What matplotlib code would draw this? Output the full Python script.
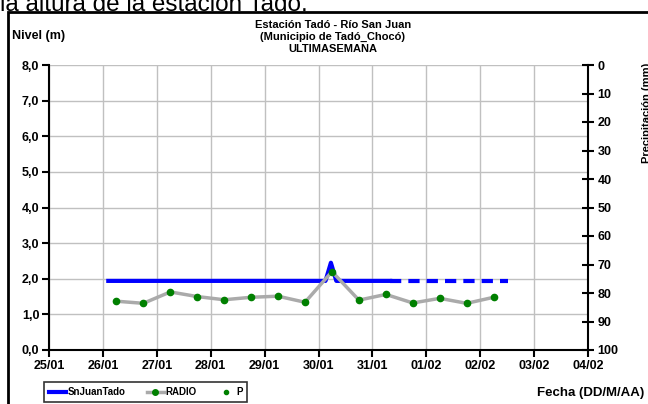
import matplotlib
matplotlib.use("Agg")
from matplotlib import pyplot as plt
from matplotlib.lines import Line2D
from matplotlib.patches import Rectangle

plt.rcParams['font.family'] = ['Liberation Sans', 'DejaVu Sans']

# days counted from 25/01
DAY_LABELS = ["25/01", "26/01", "27/01", "28/01", "29/01", "30/01",
              "31/01", "01/02", "02/02", "03/02", "04/02"]

# SnJuanTado level (m): measured part and forecast (dashed)
nivel_dias = [1.1, 5.13, 5.23, 5.33, 6.33]
nivel_m = [1.94, 1.94, 2.45, 1.94, 1.94]
prono_dias = [6.33, 8.52]
prono_m = [1.94, 1.94]

# RADIO readings (m)
radio_dias = [1.25, 1.75, 2.25, 2.75, 3.25, 3.75, 4.25, 4.75,
              5.25, 5.75, 6.25, 6.75, 7.25, 7.75, 8.25]
radio_m = [1.37, 1.31, 1.63, 1.50, 1.41, 1.48, 1.51, 1.34,
           2.20, 1.40, 1.56, 1.32, 1.45, 1.31, 1.48]

W, H = 648, 404
BOLD = dict(fontweight='bold')


def px(x, y):
	# pixel position (from top-left) to figure fraction
	return x / W, 1 - y / H


def main():
	fig = plt.figure(figsize=(W / 100, H / 100), dpi=100)

	# text from the page above the chart, cut at the top
	fig.text(*px(0, 11), "la altura de la estación Tadó.", fontsize=17.5,
			 va='baseline', ha='left')

	# chart frame
	fig.patches.append(Rectangle(px(8, 420), 1, (420 - 12) / H, transform=fig.transFigure,
								 fill=False, edgecolor='black', linewidth=2))

	l, t = px(49, 65)
	r, b = px(588, 350)
	ax = fig.add_axes([l, b, r - l, t - b])

	ax.plot(radio_dias, radio_m, color='#aaaaaa', linewidth=2.5, zorder=3)
	ax.plot(radio_dias, radio_m, linestyle='none', marker='o', markersize=4.5,
			color='#008000', zorder=4)
	ax.plot(nivel_dias, nivel_m, color='#0000ff', linewidth=3, zorder=2)
	ax.plot(prono_dias, prono_m, color='#0000ff', linewidth=3, zorder=2,
			dashes=(2.7, 1.7))

	ax.set_xlim(0, 10)
	ax.set_ylim(0, 8)
	ax.set_xticks(range(len(DAY_LABELS)))
	ax.set_xticklabels(DAY_LABELS, **BOLD)
	ax.set_yticks(range(9))
	ax.set_yticklabels(['{:.1f}'.format(v).replace('.', ',') for v in range(9)], **BOLD)
	ax.tick_params(labelsize=9, length=5, width=1.5, direction='out', pad=2)
	ax.grid(True, color='#c0c0c0', linewidth=1)
	ax.set_axisbelow(True)
	for s in ['top', 'right']:
		ax.spines[s].set_visible(False)
	for s in ['left', 'bottom']:
		ax.spines[s].set_linewidth(1.5)

	ax2 = ax.twinx()
	ax2.set_ylim(100, 0)
	ax2.set_yticks(range(0, 101, 10))
	ax2.set_yticklabels([str(v) for v in range(0, 101, 10)], **BOLD)
	ax2.tick_params(labelsize=9, length=8, width=1.5, direction='inout', pad=3)
	for s in ['top', 'left', 'bottom']:
		ax2.spines[s].set_visible(False)
	ax2.spines['right'].set_linewidth(1.5)

	fig.text(*px(12, 36), "Nivel (m)", fontsize=9, va='center', ha='left', **BOLD)
	fig.text(*px(333, 37), "Estación Tadó - Río San Juan\n(Municipio de Tadó_Chocó)\nULTIMASEMANA",
			 fontsize=8, va='center', ha='center', linespacing=1.25, **BOLD)
	fig.text(*px(642, 63), "Precipitación (mm)", fontsize=8, rotation=90,
			 va='top', ha='left', **BOLD)
	fig.text(*px(644, 393), "Fecha (DD/M/AA)", fontsize=9.5, va='center', ha='right', **BOLD)

	handles = [
		Line2D([], [], color='#0000ff', linewidth=3),
		Line2D([], [], color='#aaaaaa', linewidth=2.5, marker='o', markersize=4,
			   markerfacecolor='#008000', markeredgecolor='#008000'),
		Line2D([], [], linestyle='none', marker='o', markersize=3, color='#008000'),
	]
	leg = fig.legend(handles, ['SnJuanTado', 'RADIO', 'P'], ncol=3,
					 loc='center left', bbox_to_anchor=px(44, 392),
					 prop=dict(size=7, weight='bold'), frameon=True, fancybox=False,
					 handlelength=1.8, handletextpad=0.1, columnspacing=2.2,
					 borderpad=0.5, borderaxespad=0)
	leg.get_frame().set_edgecolor('black')
	leg.get_frame().set_linewidth(1.2)

	fig.savefig('out.png', dpi=100)


main()
